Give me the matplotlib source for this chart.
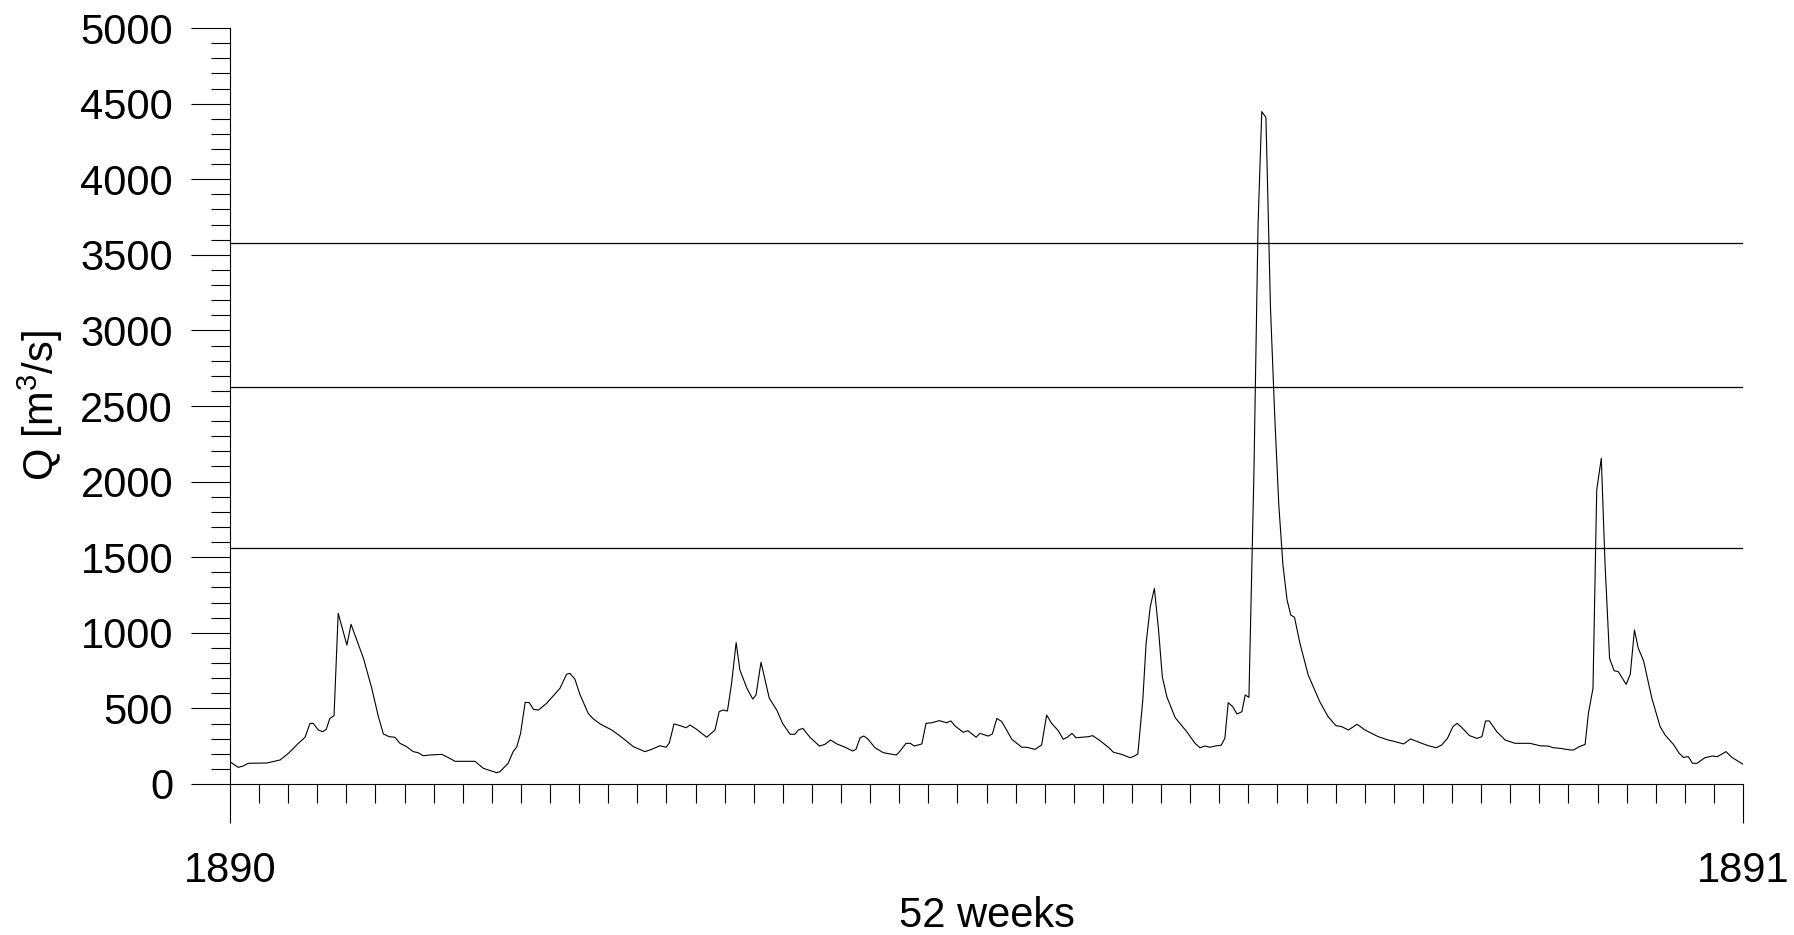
# Discharge hydrograph for one year (1890) with three threshold lines
import numpy as np
import matplotlib
matplotlib.use("Agg")
import matplotlib.pyplot as plt


# Values
# day of the year and discharge Q in m3/s
days = [
    0, 2.0, 3.2, 4.4, 8.9, 12.1, 14.1, 16.5, 18.1, 19.3, 20.1, 21.3, 22.4, 23.2,
    24.1, 25.1, 26.1, 28.2, 29.2, 32.2, 34.2, 35.8, 37.0, 38.4, 39.8, 41.0,
    42.6, 44.2, 45.4, 46.6, 48.3, 51.1, 52.7, 54.3, 56.3, 59.1, 61.1, 64.3,
    65.1, 67.1, 68.3, 69.2, 70.1, 71.2, 72.2, 73.2, 74.4, 76.4, 79.6, 81.2,
    82.0, 83.2, 84.4, 86.4, 87.5, 89.3, 92.1, 94.5, 97.3, 100.1, 101.7, 103.7,
    105.2, 106.0, 107.1, 108.6, 110.0, 111.0, 112.6, 115.0, 117.0, 118.0,
    118.9, 120.0, 121.0, 122.1, 123.0, 124.7, 126.1, 126.9, 128.1, 130.1,
    131.9, 133.3, 135.1, 136.3, 137.1, 138.2, 139.9, 142.2, 143.5, 144.9,
    146.4, 148.4, 150.2, 151.0, 152.0, 152.9, 153.8, 155.6, 157.6, 160.7,
    161.2, 163.1, 164.1, 165.1, 166.9, 167.9, 169.3, 171.1, 172.9, 173.9,
    174.9, 176.9, 178.0, 180.0, 180.9, 182.9, 183.9, 185.0, 186.2, 188.6,
    191.0, 192.2, 194.2, 195.8, 197.0, 198.2, 199.8, 201.0, 202.0, 203.1,
    204.1, 207.1, 208.1, 209.9, 211.9, 213.1, 215.1, 217.1, 217.9, 219.0,
    220.2, 221.0, 222.0, 223.0, 224.0, 224.9, 226.0, 228.0, 230.8, 232.8,
    234.0, 235.2, 236.4, 238.0, 239.1, 240.0, 240.8, 241.9, 242.9, 244.1,
    244.9, 245.8, 247.0, 248.0, 248.9, 249.9, 251.0, 252.0, 253.0, 254.0,
    255.0, 255.9, 256.8, 258.1, 260.1, 262.9, 264.9, 266.8, 268.2, 269.8,
    271.9, 273.8, 277.0, 279.4, 281.1, 283.1, 284.8, 287.1, 289.1, 291.0,
    292.3, 293.7, 295.0, 296.0, 297.1, 299.0, 300.8, 302.0, 302.9, 303.8,
    305.6, 307.6, 310.0, 313.6, 316.0, 318.0, 319.2, 320.9, 323.3, 324.1,
    325.5, 326.9, 327.7, 328.8, 329.7, 330.8, 331.7, 332.8, 333.9, 334.9,
    336.8, 337.8, 338.8, 339.7, 341.0, 343.0, 345.0, 346.2, 348.2, 349.6,
    350.6, 351.8, 352.8, 353.9, 355.8, 357.6, 358.8, 360.9, 362.3, 364.9,
]
discharge = [
    147, 110, 119, 137, 139, 159, 203, 269, 309, 401, 401, 357, 346, 361,
    434, 452, 1129, 919, 1056, 831, 633, 445, 331, 313, 309, 269,
    247, 214, 207, 187, 192, 196, 174, 150, 150, 150, 104, 75,
    81, 137, 214, 247, 335, 540, 538, 494, 489, 534, 633, 726,
    732, 694, 593, 468, 434, 397, 357, 309, 247, 214, 229, 253,
    243, 273, 397, 386, 372, 390, 361, 309, 357, 478,
    489, 483, 666, 935, 754, 633, 562, 589, 805, 567,
    489, 401, 329, 329, 357, 368, 309, 251, 262, 291,
    265, 243, 218, 229, 306, 317, 300, 240, 207, 192,
    203, 269, 269, 251, 265, 401, 405, 419, 405, 417,
    384, 342, 353, 309, 335, 317, 331, 434, 412, 296,
    243, 243, 229, 258, 456, 401, 353, 296, 309, 335,
    306, 313, 320, 286, 243, 210, 196, 174, 181, 198,
    556, 931, 1173, 1294, 1019, 710, 577, 439, 346, 269,
    240, 251, 243, 253, 256, 302, 538, 511, 463, 478,
    589, 573, 2050, 3700, 4447, 4409, 3150, 2450, 1850, 1450,
    1217, 1118, 1102, 931, 721, 544, 445, 386, 379, 357,
    395, 357, 313, 291, 280, 265, 298, 273, 253, 240,
    258, 302, 379, 401, 375, 320, 302, 313, 417, 417,
    346, 291, 269, 269, 253, 251, 240, 236, 225, 225,
    247, 262, 468, 633, 1944, 2154, 1460, 831, 749, 743,
    659, 727, 1019, 900, 815, 567, 379, 324, 262, 203,
    176, 181, 137, 137, 174, 185, 181, 214, 176, 132,
]

# Threshold discharges drawn as horizontal lines
thresholds = [3576, 2628, 1559]

year_labels = ["1890", "1891"]


plt.rcParams["font.family"] = ["Liberation Sans", "DejaVu Sans"]
plt.rcParams["mathtext.fontset"] = "custom"
plt.rcParams["mathtext.rm"] = "Liberation Sans"
plt.rcParams["mathtext.it"] = "Liberation Sans:italic"

fig = plt.figure(figsize=(17.94, 9.35), dpi=100)
ax = fig.add_axes([0.1282, 0.1615, 0.9716 - 0.1282, 0.97 - 0.1615])

ax.plot(days, discharge, color="black", linewidth=0.8)
for t in thresholds:
    ax.axhline(t, color="black", linewidth=0.9)

ax.set_xlim(0, 365)
ax.set_ylim(0, 5000)

# y axis: labels every 500, small ticks every 100
ax.set_yticks(np.arange(0, 5001, 500))
ax.set_yticks(np.arange(0, 5001, 100), minor=True)

# x axis: year marks at both ends, one small tick per week
ax.set_xticks([0, 365])
ax.set_xticklabels(year_labels)
ax.set_xticks(np.linspace(0, 365, 53)[1:-1], minor=True)

ax.tick_params(axis="both", which="major", direction="out", length=28,
               width=0.8, labelsize=30, color="black")
ax.tick_params(axis="both", which="minor", direction="out", length=13.7,
               width=0.8, color="black")
ax.tick_params(axis="y", which="major", pad=13)
ax.tick_params(axis="x", which="major", pad=20)

ax.spines["top"].set_visible(False)
ax.spines["right"].set_visible(False)
ax.spines["left"].set_linewidth(0.8)
ax.spines["bottom"].set_linewidth(0.8)

ax.set_xlabel("52 weeks", fontsize=30, labelpad=4)
ax.set_ylabel("Q [m$^{3}$/s]", fontsize=30, labelpad=11)

fig.savefig("out.png", dpi=100)
